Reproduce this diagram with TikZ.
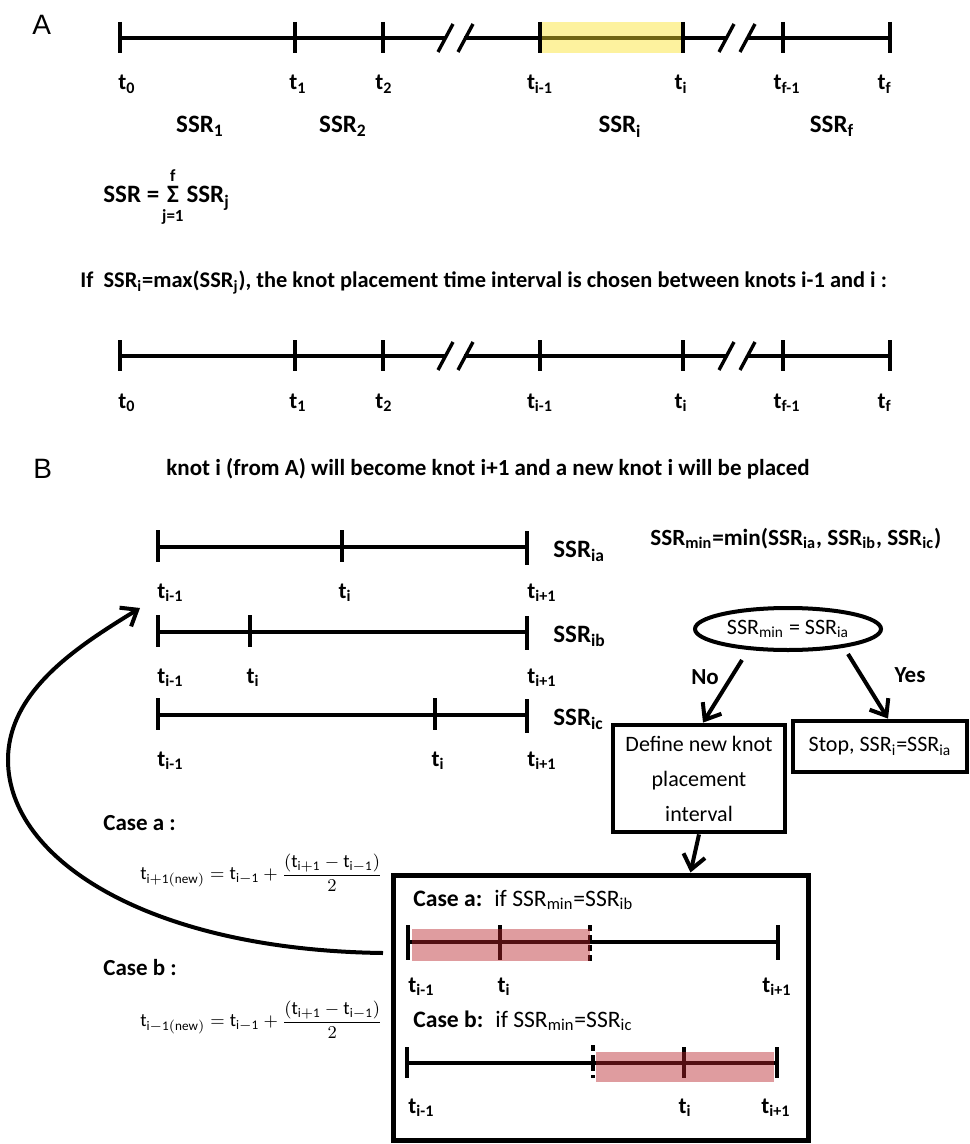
\documentclass[tikz,border=0pt]{standalone}
\usepackage{amsmath}
\usepackage{fontspec}
\setmainfont{Carlito}
\newfontfamily\panelfont{Liberation Sans}
\usetikzlibrary{arrows.meta,positioning,calc,shapes.geometric}
\definecolor{pickfill}{RGB}{250,226,40}
\definecolor{casefill}{RGB}{185,35,42}
\newcommand{\sub}[1]{\textsubscript{#1}}

\begin{document}
\begin{tikzpicture}[
    x=0.5pt,y=-0.5pt,
    axis/.style={line width=1.7pt},
    lbl/.style={font=\fontsize{11.5}{13}\selectfont\bfseries,inner sep=0pt},
    big/.style={font=\fontsize{12.5}{14}\selectfont\bfseries,inner sep=0pt},
    plain/.style={font=\fontsize{11}{17.5}\selectfont,inner sep=0pt},
    panel/.style={font=\panelfont\fontsize{14}{16}\selectfont,inner sep=0pt},
    stepbox/.style={draw,line width=2.4pt,align=center,inner sep=0pt,plain},
    flow/.style={line width=2pt,-{Straight Barb[length=7pt,width=11pt,line width=2pt]}},
    band/.style={fill opacity=0.45}]
  \useasboundingbox (0,0) rectangle (969,1144);

  % panel A: the two full knot lines
  \node[panel,anchor=north west] (labA) at (32,15) {A};
  \foreach \row/\dy in {top/0,low/318} {
    \begin{scope}[shift={(0,\dy)}]
      \draw[axis] (120,38) -- (445,38);
      \draw[axis] (464,38) -- (726,38);
      \draw[axis] (747,38) -- (890,38);
      \foreach \xa in {438,458,719,740}
        \draw[axis] (\xa,52) -- ++(15,-28);
      \foreach \xt in {120,295,383,540,683,783,890}
        \draw[axis] (\xt,22) -- (\xt,53);
      \node[lbl,anchor=base west] (\row-t0) at (118,90) {t\sub{0}};
      \node[lbl,anchor=base] (\row-t1) at (298,90) {t\sub{1}};
      \node[lbl,anchor=base] (\row-t2) at (384,90) {t\sub{2}};
      \node[lbl,anchor=base] (\row-ti1) at (540,90) {t\sub{i-1}};
      \node[lbl,anchor=base] (\row-ti) at (681,90) {t\sub{i}};
      \node[lbl,anchor=base] (\row-tf1) at (787,90) {t\sub{f-1}};
      \node[lbl,anchor=base east] (\row-tf) at (892,90) {t\sub{f}};
    \end{scope}
  }
  \fill[pickfill,band] (542,22) rectangle (681,53);

  \node[big,anchor=base] (ssr1) at (200,133) {SSR\sub{1}};
  \node[big,anchor=base] (ssr2) at (343,133) {SSR\sub{2}};
  \node[big,anchor=base] (ssri) at (620,133) {SSR\sub{i}};
  \node[big,anchor=base] (ssrf) at (832,133) {SSR\sub{f}};

  \node[big,anchor=base west] (sumlhs) at (103,203) {SSR =};
  \node[big,right=3.5pt of sumlhs.base east,anchor=base west] (sigma) {Σ};
  \node[big,right=3.5pt of sigma.base east,anchor=base west] (sumrhs) {SSR\sub{j}};
  \node[lbl,font=\fontsize{8.5}{10}\selectfont\bfseries,above=2pt of sigma] (sumtop) {f};
  \node[lbl,font=\fontsize{8.5}{10}\selectfont\bfseries,below=3pt of sigma] (sumbot) {j=1};

  \node[lbl,font=\fontsize{11.2}{13}\selectfont\bfseries,anchor=base west] (rule) at (80,288)
    {If\ \ SSR\sub{i}=max(SSR\sub{j}), the knot placement time interval is chosen between knots i-1 and i :};

  % panel B
  \node[panel,anchor=north west] (labB) at (33,459) {B};
  \node[lbl,font=\fontsize{11.5}{13}\selectfont\bfseries,anchor=base] (retitle) at (488,475)
    {knot i (from A) will become knot i+1 and a new knot i will be placed};

  \foreach \row/\yl/\xm/\lab in {ia/547/342/ia,ib/632/250/ib,ic/715/435/ic} {
    \draw[axis] (158,\yl) -- (527,\yl);
    \foreach \xt in {158,\xm}
      \draw[axis] (\xt,\yl-17) -- (\xt,\yl+15);
    \draw[axis] (527,\yl-16) -- (527,\yl+18);
    \node[lbl,anchor=base west] (\row-a) at (157,\yl+51) {t\sub{i-1}};
    \node[lbl,anchor=base] (\row-b) at (\xm+3,\yl+51) {t\sub{i}};
    \node[lbl,anchor=base west] (\row-c) at (527,\yl+51) {t\sub{i+1}};
    \node[big,anchor=base west] (\row-ssr) at (553,\yl+10) {SSR\sub{\lab}};
  }

  \node[big,font=\fontsize{11.6}{14}\selectfont\bfseries,anchor=base west] (ssrmin) at (650,545)
    {SSR\sub{min}=min(SSR\sub{ia}, SSR\sub{ib}, SSR\sub{ic})};
  \node[ellipse,draw,line width=2pt,minimum width=93pt,minimum height=21pt,
        inner sep=0pt,plain] (dec) at (788,629) {SSR\sub{min} = SSR\sub{ia}};
  \node[stepbox,minimum width=86pt,minimum height=53.5pt] (define) at (699,778.5)
    {Define new knot\\placement\\interval};
  \node[stepbox,minimum width=87pt,minimum height=25.5pt] (stop) at (880,746.5)
    {Stop, SSR\sub{i}=SSR\sub{ia}};
  \node[draw,line width=2.5pt,minimum width=207.5pt,minimum height=132.5pt,inner sep=0pt]
    (casebox) at (600.5,1007.5) {};

  \draw[flow] ($(dec.south)+(-46,8)$) -- ($(define.north)+(4,0)$);
  \draw[flow] ($(dec.south)+(60,2)$) -- ($(stop.north)+(8,0)$);
  \draw[flow] (define.south) -- ($(casebox.north)+(90,0)$);
  \node[lbl,anchor=base] (nolbl) at (705,684) {No};
  \node[lbl,anchor=base] (yeslbl) at (910,682) {Yes};

  % new interval, case a
  \node[big,font=\fontsize{11.8}{14}\selectfont\bfseries,anchor=base west] (caseahead) at (413,906)
    {Case a:\hspace{6pt}\mdseries if SSR\sub{min}=SSR\sub{ib}};
  \draw[axis] (408,942) -- (778,942);
  \foreach \xt in {408,500,778}
    \draw[axis] (\xt,925) -- (\xt,960);
  \draw[axis,dash pattern=on 3pt off 2pt] (590,925) -- (590,962);
  \fill[casefill,band] (412,929) rectangle (590,961);
  \node[lbl,anchor=base west] (casea-a) at (408,992) {t\sub{i-1}};
  \node[lbl,anchor=base] (casea-b) at (504,992) {t\sub{i}};
  \node[lbl,anchor=base] (casea-c) at (777,992) {t\sub{i+1}};

  % new interval, case b
  \node[big,font=\fontsize{11.8}{14}\selectfont\bfseries,anchor=base west] (casebhead) at (413,1027)
    {Case b:\hspace{6pt}\mdseries if SSR\sub{min}=SSR\sub{ic}};
  \draw[axis] (407,1063) -- (777,1063);
  \foreach \xt in {407,684,777}
    \draw[axis] (\xt,1047) -- (\xt,1078);
  \draw[axis,dash pattern=on 3pt off 2pt] (593,1045) -- (593,1078);
  \fill[casefill,band] (596,1052) rectangle (774,1082);
  \node[lbl,anchor=base west] (caseb-a) at (408,1113) {t\sub{i-1}};
  \node[lbl,anchor=base] (caseb-b) at (685,1113) {t\sub{i}};
  \node[lbl,anchor=base] (caseb-c) at (776,1113) {t\sub{i+1}};

  % formulas and the loop back
  \node[lbl,anchor=base west] (casealbl) at (103,830) {Case a :};
  \node[anchor=west,inner sep=0pt,font=\fontsize{9.4}{11}\selectfont] (casealaw) at (140,873)
    {$\mathrm{t}_{\mathrm{i+1(new)}} = \mathrm{t}_{\mathrm{i-1}} + \dfrac{(\mathrm{t}_{\mathrm{i+1}} - \mathrm{t}_{\mathrm{i-1}})}{2}$};
  \node[lbl,anchor=base west] (caseblbl) at (103,975) {Case b :};
  \node[anchor=west,inner sep=0pt,font=\fontsize{9.4}{11}\selectfont] (caseblaw) at (140,1020)
    {$\mathrm{t}_{\mathrm{i-1(new)}} = \mathrm{t}_{\mathrm{i-1}} + \dfrac{(\mathrm{t}_{\mathrm{i+1}} - \mathrm{t}_{\mathrm{i-1}})}{2}$};

  \coordinate (loopstart) at (383,953);
  \coordinate (loopend) at (140,608);
  \draw[flow] (loopstart) .. controls (150,950) and (8,860) .. (8,760)
    .. controls (8,690) and (80,645) .. (loopend);
\end{tikzpicture}
\end{document}
